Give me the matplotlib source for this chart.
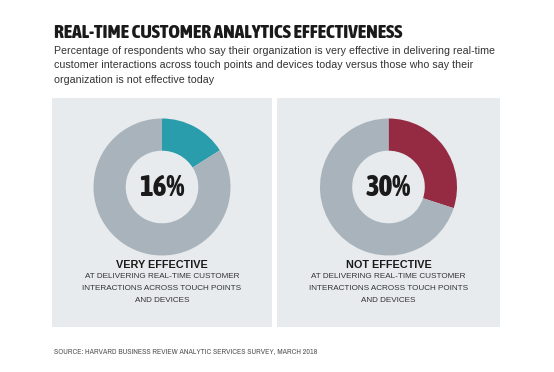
import matplotlib
matplotlib.use("Agg")
import matplotlib.pyplot as plt
from matplotlib import font_manager
from matplotlib.patches import Rectangle

W, H = 554, 372

title = "REAL-TIME CUSTOMER ANALYTICS EFFECTIVENESS"
subtitle = ("Percentage of respondents who say their organization is very effective in delivering real-time\n"
            "customer interactions across touch points and devices today versus those who say their\n"
            "organization is not effective today")
source = "SOURCE: HARVARD BUSINESS REVIEW ANALYTIC SERVICES SURVEY, MARCH 2018"

categories = ["VERY EFFECTIVE", "NOT EFFECTIVE"]
values = [16, 30]
descriptions = ["AT DELIVERING REAL-TIME CUSTOMER",
                "INTERACTIONS ACROSS TOUCH POINTS",
                "AND DEVICES"]
colors = ["#2A9DAD", "#952B43"]
rest_color = "#A9B3BB"
panel_bg = "#E7EBED"


def weight_num(w):
    if isinstance(w, (int, float)):
        return w
    return {"bold": 700, "heavy": 800, "black": 900, "semibold": 600,
            "demibold": 600, "extra bold": 800}.get(str(w).lower(), 400)


# look for a bold condensed face first, then any condensed one
narrow, narrow_bold = None, None
for f in font_manager.fontManager.ttflist:
    if any(k in f.name for k in ("Condensed", "Narrow", "Compressed")):
        if narrow is None:
            narrow = f.name
        if narrow_bold is None and weight_num(f.weight) >= 600:
            narrow_bold = f.name
NARROW = [narrow or "Roboto", "DejaVu Sans"]
NARROW_BOLD = [narrow_bold or narrow or "Roboto", "DejaVu Sans"]
SANS = ["Liberation Sans", "DejaVu Sans"]


def fx(x):
    return x / W


def fy(y):
    return 1 - y / H


fig = plt.figure(figsize=(W / 100, H / 100), dpi=100)
fig.patch.set_facecolor("white")
renderer = fig.canvas.get_renderer()


def fit_width(t, width_px, max_size):
    # shrink the font until the text is as wide as in the reference
    w = t.get_window_extent(renderer).width
    t.set_fontsize(min(max_size, t.get_fontsize() * width_px / w))


t = fig.text(fx(54), fy(33), title, family=NARROW_BOLD, weight="heavy", fontsize=17,
             color="#1a1a1a", va="center", ha="left")
fit_width(t, 346, 17)
fig.text(fx(54), fy(46), subtitle, fontsize=7.7, color="#333333", va="top",
         ha="left", linespacing=1.55, family=SANS)

panels = [(52, 272), (277, 500)]
top, bottom = 98, 327
desc_y = [276, 288.5, 301]

for i, (x0, x1) in enumerate(panels):
    fig.add_artist(Rectangle((fx(x0), fy(bottom)), fx(x1 - x0), (bottom - top) / H,
                             transform=fig.transFigure, facecolor=panel_bg,
                             edgecolor="none", zorder=0))
    cx = (x0 + x1) / 2
    cy, r = 187, 68.5
    ax = fig.add_axes([fx(cx - r), fy(cy + r), 2 * r / W, 2 * r / H])
    ax.pie([values[i], 100 - values[i]], colors=[colors[i], rest_color],
           startangle=90, counterclock=False, radius=1,
           wedgeprops=dict(width=0.47, edgecolor="none"))
    ax.set_xlim(-1, 1)
    ax.set_ylim(-1, 1)
    ax.set_aspect("equal")
    ax.axis("off")
    p = ax.text(0, 0, f"{values[i]}%", family=NARROW_BOLD, weight="heavy", fontsize=21,
                color="#1a1a1a", ha="center", va="center")
    fit_width(p, 46, 21)

    fig.text(fx(cx), fy(265), categories[i], fontsize=7.8, weight="bold",
             color="#1a1a1a", ha="center", va="center", family=SANS)
    for line, y in zip(descriptions, desc_y):
        fig.text(fx(cx), fy(y), line, fontsize=5.9, color="#333333",
                 ha="center", va="center", family=SANS)

s = fig.text(fx(54), fy(351), source, family=NARROW, fontsize=6.3, color="#555555",
             ha="left", va="center")
fit_width(s, 264, 6.3)

fig.savefig("out.png", dpi=100)
